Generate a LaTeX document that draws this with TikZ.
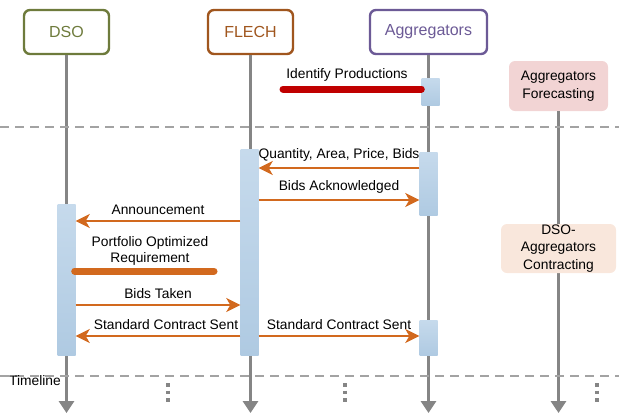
\documentclass[tikz,border=0pt]{standalone}
\usepackage{fontspec}
\setmainfont{Liberation Sans}
\usetikzlibrary{arrows.meta,calc}
\definecolor{dsoc}{HTML}{6E7B3C}
\definecolor{flechc}{HTML}{A0561E}
\definecolor{aggc}{HTML}{6C5A96}
\definecolor{lifec}{HTML}{858585}
\definecolor{dashc}{HTML}{A3A3A3}
\definecolor{msgc}{HTML}{D2691E}
\definecolor{redc}{HTML}{C00000}
\definecolor{pinkc}{HTML}{F2D4D4}
\definecolor{peachc}{HTML}{F9E7DC}
\definecolor{acttop}{HTML}{C6DAEC}
\definecolor{actbot}{HTML}{AFCAE2}
\tikzset{
  header/.style={draw=#1, text=#1, line width=2.4bp, rounded corners=6bp, fill=white,
    minimum height=44bp, font=\fontsize{16bp}{19bp}\selectfont, inner sep=0pt},
  life/.style={draw=lifec, line width=3bp, -{Triangle[length=12bp,width=15bp]}},
  sepline/.style={draw=dashc, line width=1.4bp, dash pattern=on 9bp off 6bp},
  actbox/.style={rectangle, draw=none, top color=acttop, bottom color=actbot, minimum width=18bp, inner sep=0pt},
  msg/.style={draw=msgc, line width=2.8bp, -{Stealth[length=14bp,width=14bp,inset=4bp]}},
  lbl/.style={font=\fontsize{13.8bp}{16bp}\selectfont, align=center, inner sep=0pt},
  phase/.style={rectangle, rounded corners=6bp, fill=#1, draw=none, align=center,
    font=\fontsize{13.8bp}{17.5bp}\selectfont, inner sep=0pt},
  vdots/.style={draw=lifec, line width=3.5bp, dash pattern=on 3.5bp off 4bp}
}
\begin{document}
\begin{tikzpicture}[x=1bp,y=-1bp]
\useasboundingbox (0,0) rectangle (619,414);
% headers
\node[header=dsoc, minimum width=85bp] (dso) at (66.5,32) {DSO};
\node[header=flechc, minimum width=85bp] (flech) at (250.5,32) {FLECH};
\node[header=aggc, minimum width=117bp] (agg) at (428.5,32) {Aggregators};
\node[phase=pinkc, minimum width=99bp, minimum height=50bp] (fore) at (558.5,86) {Aggregators\\Forecasting};
% end points
\coordinate (dsoend) at (66.5,413);
\coordinate (flechend) at (250.5,413);
\coordinate (aggend) at (428.5,413);
\coordinate (foreend) at (558.5,413);
% lifelines
\draw[life] (dso.south) -- (dsoend);
\draw[life] (flech.south) -- (flechend);
\draw[life] (agg.south) -- (aggend);
\draw[life] (fore.south) -- (foreend);
% separators
\coordinate (s1l) at (0,127); \coordinate (s1r) at (619,127);
\coordinate (s2l) at (0,376); \coordinate (s2r) at (619,376);
\draw[sepline] (s1l) -- (s1r);
\draw[sepline] (s2l) -- (s2r);
% phase box 2
\node[phase=peachc, minimum width=115bp, minimum height=49bp] (contr) at (558.5,248.5) {DSO-\\Aggregators\\Contracting};
% activation boxes
\node[actbox, minimum height=27bp] (a1) at (430.5,91.5) {};
\node[actbox, minimum height=63bp] (a2) at (428.5,183.5) {};
\node[actbox, minimum height=35bp] (a3) at (428.5,337.5) {};
\node[actbox, minimum height=206bp] (f1) at (249.5,252) {};
\node[actbox, minimum height=151bp] (d1) at (66.5,279.5) {};
% identify productions
\node[lbl] (idp) at (347,75) {Identify Productions};
\coordinate (idps) at (283,89);
\draw[draw=redc, line width=7bp, line cap=round] (idps) -- (a1.west |- idps);
% messages
\draw[msg] (a2.west |- 0,168) -- node[lbl, above=5bp] (m1) {Quantity, Area, Price, Bids} (f1.east |- 0,168);
\draw[msg] (f1.east |- 0,200) -- node[lbl, above=5bp] (m2) {Bids Acknowledged} (a2.west |- 0,200);
\draw[msg] (f1.west |- 0,221) -- node[lbl, above=5bp] (m3) {Announcement} (d1.east |- 0,221);
\node[lbl] (por) at (150,251) {Portfolio Optimized\\Requirement};
\coordinate (pore) at (214,271);
\draw[draw=msgc, line width=7bp, line cap=round] (d1.east |- pore) ++(-1,0) -- (pore);
\draw[msg] (d1.east |- 0,305) -- node[lbl, above=5bp] (m4) {Bids Taken} (f1.west |- 0,305);
\draw[msg] (f1.west |- 0,336) -- node[lbl, above=5bp, xshift=8bp] (m5) {Standard Contract Sent} (d1.east |- 0,336);
\draw[msg] (f1.east |- 0,336) -- node[lbl, above=5bp] (m6) {Standard Contract Sent} (a3.west |- 0,336);
% timeline
\node[lbl, anchor=base west] (tl) at (9,385) {Timeline};
% dots
\coordinate (dA1) at (168,383); \coordinate (dA2) at (168,403);
\coordinate (dB1) at (345,383); \coordinate (dB2) at (345,403);
\coordinate (dC1) at (597,383); \coordinate (dC2) at (597,403);
\draw[vdots] (dA1) -- (dA2);
\draw[vdots] (dB1) -- (dB2);
\draw[vdots] (dC1) -- (dC2);
\end{tikzpicture}
\end{document}
